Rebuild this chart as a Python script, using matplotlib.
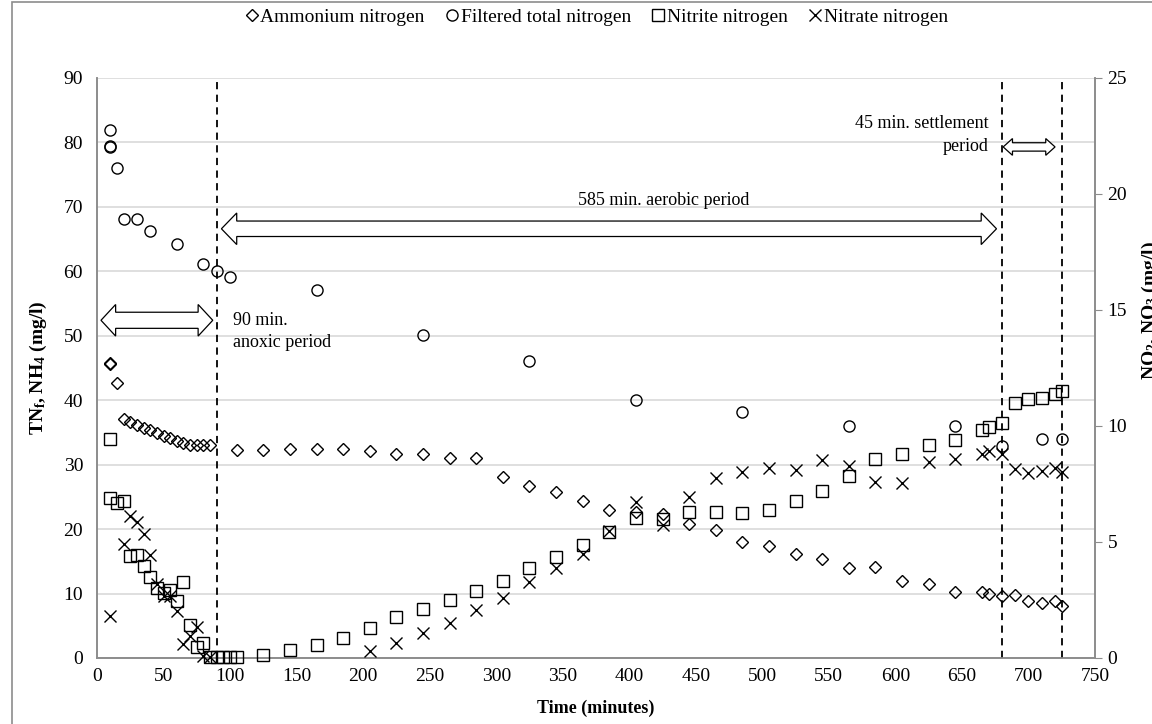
import matplotlib

matplotlib.use("Agg")
import matplotlib.pyplot as plt
from matplotlib.lines import Line2D
from matplotlib.patches import Polygon, Rectangle

# --- values ----------------------------------------------------------------
# left axis (mg/l): ammonium and filtered total nitrogen
NH4_T = [10, 10, 15, 20, 25, 30, 35, 40, 45, 50, 55, 60, 65, 70, 75, 80, 85,
         105, 125, 145, 165, 185, 205, 225, 245, 265, 285, 305, 325, 345, 365,
         385, 405, 425, 445, 465, 485, 505, 525, 545, 565, 585, 605, 625, 645,
         665, 670, 680, 690, 700, 710, 720, 725]
NH4 = [45.8, 45.6, 42.6, 37.1, 36.6, 36.1, 35.7, 35.3, 34.9, 34.5, 34.1, 33.7,
       33.3, 33.0, 33.0, 33.0, 33.0,
       32.3, 32.2, 32.5, 32.4, 32.4, 32.1, 31.6, 31.6, 31.1, 31.1, 28.1, 26.7,
       25.7, 24.3, 22.9, 22.6, 22.3, 20.8, 19.9, 18.0, 17.3, 16.2, 15.4, 14.0,
       14.1, 11.9, 11.5, 10.3, 10.2, 10.0, 9.6, 9.7, 8.9, 8.5, 8.9, 8.1]

TN_T = [10, 10, 10, 15, 20, 30, 40, 60, 80, 90, 100, 165, 245, 325, 405, 485,
        565, 645, 680, 710, 725]
TN = [82.0, 79.5, 79.3, 76.1, 68.1, 68.1, 66.2, 64.2, 61.2, 60.1, 59.1, 57.1,
      50.1, 46.1, 40.0, 38.1, 36.0, 36.0, 32.9, 34.0, 34.0]

# right axis (mg/l): nitrite and nitrate
NO2_T = [10, 10, 15, 20, 25, 30, 35, 40, 45, 50, 55, 60, 65, 70, 75, 80, 85,
         90, 95, 100, 105, 125, 145, 165, 185, 205, 225, 245, 265, 285, 305,
         325, 345, 365, 385, 405, 425, 445, 465, 485, 505, 525, 545, 565, 585,
         605, 625, 645, 665, 670, 680, 690, 700, 710, 720, 725]
NO2 = [9.45, 6.9, 6.7, 6.75, 4.4, 4.45, 3.95, 3.47, 3.0, 2.82, 2.93, 2.44,
       3.29, 1.4, 0.48, 0.66, 0.05, 0.05, 0.05, 0.05, 0.05, 0.12, 0.36, 0.54,
       0.85, 1.28, 1.76, 2.12, 2.52, 2.88, 3.33, 3.88, 4.34, 4.85, 5.42, 6.02,
       5.97, 6.3, 6.3, 6.25, 6.37, 6.76, 7.18, 7.83, 8.57, 8.8, 9.19, 9.38,
       9.84, 9.94, 10.12, 10.98, 11.16, 11.22, 11.37, 11.52]

NO3_T = [10, 20, 25, 30, 35, 40, 45, 50, 55, 60, 65, 70, 75, 80, 85,
         205, 225, 245, 265, 285, 305, 325, 345, 365, 385, 405, 425, 445, 465,
         485, 505, 525, 545, 565, 585, 605, 625, 645, 665, 670, 680, 690, 700,
         710, 720, 725]
NO3 = [1.8, 4.9, 6.1, 5.87, 5.33, 4.45, 3.17, 2.66, 2.65, 2.02, 0.6, 0.95,
       1.35, 0.1, 0.05,
       0.28, 0.65, 1.08, 1.49, 2.05, 2.58, 3.27, 3.89, 4.49, 5.46, 6.72, 5.75,
       6.95, 7.75, 8.0, 8.17, 8.12, 8.55, 8.27, 7.58, 7.55, 8.44, 8.58, 8.8,
       8.9, 8.8, 8.15, 7.97, 8.08, 8.2, 8.0]

PHASE_LINES = [90, 680, 725]
LEGEND_LABELS = ["Ammonium nitrogen", "Filtered total nitrogen",
                 "Nitrite nitrogen", "Nitrate nitrogen"]

plt.rcParams["font.family"] = ["Liberation Serif", "DejaVu Serif"]
plt.rcParams["mathtext.fontset"] = "custom"
plt.rcParams["mathtext.rm"] = "Liberation Serif:bold"
plt.rcParams["mathtext.bf"] = "Liberation Serif:bold"
plt.rcParams["mathtext.default"] = "bf"

FS = 13       # annotation text
TICK_FS = 14  # axis numbers
GREY = "#8c8c8c"


def double_arrow(ax, x0, x1, y, head_h, shaft_h, head_len):
    """Hollow block arrow pointing both ways (Excel style shape)."""
    pts = [
        (x0, y),
        (x0 + head_len, y + head_h),
        (x0 + head_len, y + shaft_h),
        (x1 - head_len, y + shaft_h),
        (x1 - head_len, y + head_h),
        (x1, y),
        (x1 - head_len, y - head_h),
        (x1 - head_len, y - shaft_h),
        (x0 + head_len, y - shaft_h),
        (x0 + head_len, y - head_h),
    ]
    ax.add_patch(Polygon(pts, closed=True, facecolor="white", edgecolor="black",
                         linewidth=0.9, zorder=4))


fig = plt.figure(figsize=(11.52, 7.24), dpi=100)
ax = fig.add_axes([0.0842, 0.0912, 0.8663, 0.8011])
ax2 = ax.twinx()

mk = dict(linestyle="none", markerfacecolor="none", markeredgecolor="black",
          markeredgewidth=1.0)
ax.plot(NH4_T, NH4, marker="D", markersize=6.3, zorder=5, clip_on=False, **mk)
ax.plot(TN_T, TN, marker="o", markersize=8, zorder=5, clip_on=False, **mk)
ax2.plot(NO2_T, NO2, marker="s", markersize=8, zorder=5, clip_on=False, **mk)
ax2.plot(NO3_T, NO3, marker="x", markersize=8, color="black", zorder=5,
         clip_on=False, **mk)

ax.set_xlim(0, 750)
ax.set_ylim(0, 90)
ax2.set_ylim(0, 25)
ax.set_xticks(range(0, 751, 50))
ax.set_yticks(range(0, 91, 10))
ax2.set_yticks(range(0, 26, 5))
ax.grid(axis="y", color="#d9d9d9", linewidth=1.2)
ax.set_axisbelow(True)

for a in (ax, ax2):
    a.spines["top"].set_visible(False)
    for s in ("left", "right", "bottom"):
        a.spines[s].set_color(GREY)
        a.spines[s].set_linewidth(1.2)
ax.tick_params(axis="both", length=0, labelsize=TICK_FS, pad=10)
ax.tick_params(axis="x", pad=7)
ax2.tick_params(axis="y", length=5, color=GREY, labelsize=TICK_FS, pad=4)

# period boundaries
for x in PHASE_LINES:
    ax.axvline(x, color="black", linestyle=(0, (4, 3)), linewidth=1.3, zorder=3)

# period annotations
double_arrow(ax, 3.0, 87, 52.4, 2.45, 1.25, 11)
ax.text(102, 52.4, "90 min.", fontsize=FS, va="center", ha="left")
ax.text(102, 48.9, "anoxic period", fontsize=FS, va="center", ha="left")
double_arrow(ax, 93.5, 676, 66.6, 2.45, 1.2, 11.5)
ax.text(426, 71.0, "585 min. aerobic period", fontsize=FS, va="center", ha="center")
double_arrow(ax, 681, 720, 79.3, 1.3, 0.65, 7)
ax.text(670, 82.9, "45 min. settlement", fontsize=FS, va="center", ha="right")
ax.text(670, 79.3, "period", fontsize=FS, va="center", ha="right")

ax.set_xlabel("Time (minutes)", fontsize=13, fontweight="bold", labelpad=11)
fig.text(38 / 1152, 1 - 368 / 724, r"TN$_f$, NH$_4$ (mg/l)", rotation=90,
         fontsize=TICK_FS, fontweight="bold", ha="center", va="center")
fig.text(1150 / 1152, 1 - 310 / 724, r"NO$_2$, NO$_3$ (mg/l)", rotation=90,
         fontsize=TICK_FS, fontweight="bold", ha="center", va="center")

handles = [
    Line2D([], [], marker="D", markersize=6, **mk),
    Line2D([], [], marker="o", markersize=8, **mk),
    Line2D([], [], marker="s", markersize=8, **mk),
    Line2D([], [], marker="x", markersize=8, color="black", **mk),
]
fig.legend(handles, LEGEND_LABELS, loc="center", bbox_to_anchor=(0.518, 1 - 17 / 724),
           ncol=4, frameon=False, fontsize=14, handlelength=0.6, handletextpad=0.15,
           columnspacing=1.1, borderpad=0)

# outer chart-area border (cropped on the right and bottom in the original)
fig.add_artist(Rectangle((12 / 1152, -0.05), 1.2, 1 - 2 / 724 + 0.05,
                         transform=fig.transFigure, fill=False, edgecolor=GREY,
                         linewidth=1.2))

fig.savefig("out.png", dpi=100)
